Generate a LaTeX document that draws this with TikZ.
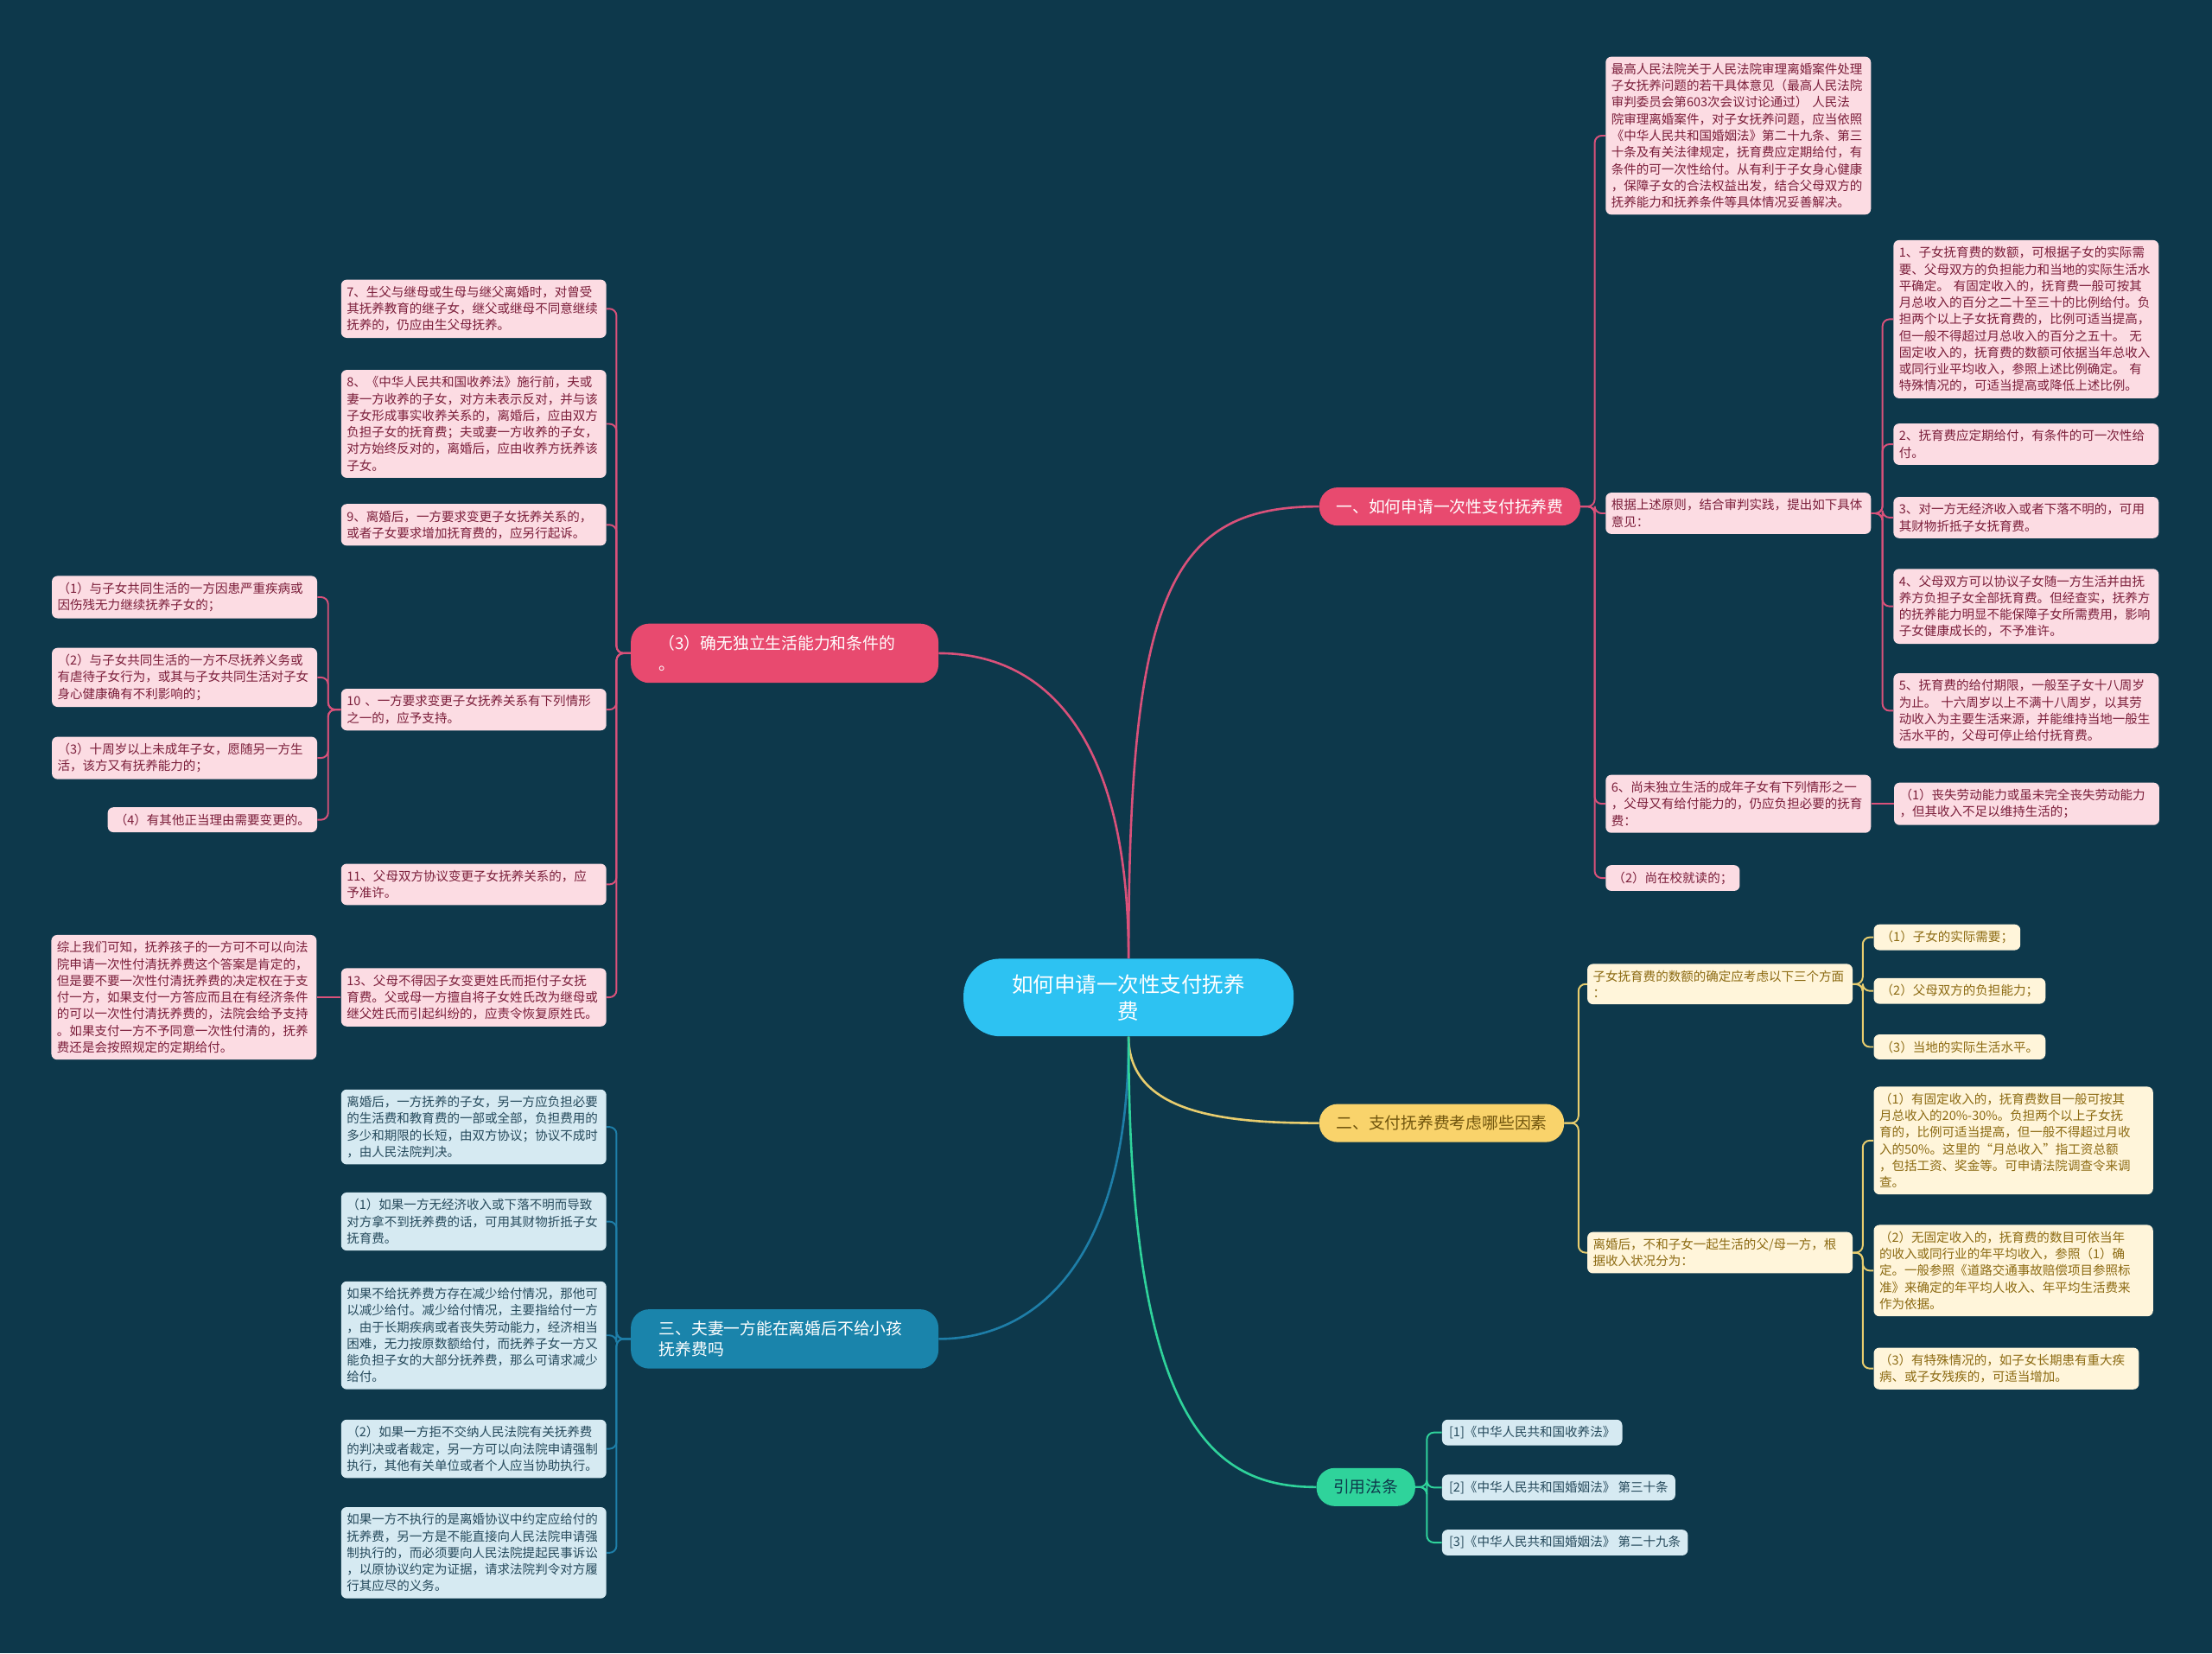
\documentclass[tikz,border=0pt]{standalone}
\usepackage{fontspec}
\setmainfont{Noto Sans CJK SC}
\usepackage{tikz}
\usetikzlibrary{positioning,calc}
\definecolor{BgTeal}{HTML}{0D384B}
\definecolor{CoreCyan}{HTML}{2DC2F2}
\definecolor{RoseNode}{HTML}{E84A6F}
\definecolor{RoseLine}{HTML}{D9517A}
\definecolor{RoseFill}{HTML}{FCDCE3}
\definecolor{RoseText}{HTML}{7B1E3A}
\definecolor{SunNode}{HTML}{F9D36B}
\definecolor{SunLine}{HTML}{E8CD6E}
\definecolor{SunFill}{HTML}{FFF5DA}
\definecolor{SunText}{HTML}{8C6A12}
\definecolor{SeaNode}{HTML}{1A84AB}
\definecolor{SeaLine}{HTML}{1E7EA8}
\definecolor{SeaFill}{HTML}{D6EAF2}
\definecolor{SeaText}{HTML}{264A5C}
\definecolor{MintNode}{HTML}{2FD39B}

\begin{document}
\begin{tikzpicture}[
    x=1pt, y=-1pt,
    core/.style={rectangle, rounded corners=26pt, fill=CoreCyan, text=white,
                 minimum width=234pt, minimum height=55pt, align=center,
                 font=\fontsize{15}{19}\selectfont},
    topic/.style={rectangle, rounded corners=13pt, fill=#1, text=white,
                  minimum height=27pt, inner xsep=12pt, align=left,
                  font=\fontsize{11.5}{15}\selectfont},
    topic/.default=RoseNode,
    widetopic/.style={topic=#1, text width=178pt, inner xsep=20pt, minimum height=42pt},
    leaf/.style={rectangle, rounded corners=4pt, fill=#1Fill, text=#1Text,
                 text width=180pt, inner xsep=4pt, inner ysep=4.6pt, align=left,
                 font=\fontsize{8.9}{11.8}\selectfont},
    leaf/.default=Rose,
    tag/.style={leaf=#1, text width=, inner xsep=5pt},
    tag/.default=Rose,
    main/.style={line width=1.6pt, color=#1},
    twig/.style={line width=1.2pt, color=#1, rounded corners=5pt},
]

% ── Canvas ──
\fill[BgTeal] (0,0) rectangle (1568,1172);
\useasboundingbox (0,0) rectangle (1568,1172);

% ── Centre topic ──
\node[core] (core) at (800,707) {如何申请一次性支付抚养\\费};

% ── Main topics ──
\node[topic, anchor=west] (once) at (935,359) {一、如何申请一次性支付抚养费};
\node[widetopic=RoseNode, anchor=west] (noself) at (447,463) {（3）确无独立生活能力和条件的\\。};
\node[topic=SunNode, text=SunText!80!black, anchor=west] (factor) at (935,796) {二、支付抚养费考虑哪些因素};
\node[widetopic=SeaNode, anchor=west] (refuse) at (447,949) {三、夫妻一方能在离婚后不给小孩\\抚养费吗};
\node[topic=MintNode, text=BgTeal, anchor=west] (laws) at (933,1054) {引用法条};

% ── Main branches ──
\draw[main=RoseLine] (core.north) .. controls (800,420) and (830,359) .. (once.west);
\draw[main=RoseLine] (core.north) .. controls (800,520) and (740,463) .. (noself.east);
\draw[main=SunLine] (core.south) .. controls (800,790) and (870,796) .. (factor.west);
\draw[main=SeaLine] (core.south) .. controls (800,900) and (730,949) .. (refuse.east);
\draw[main=MintNode] (core.south) .. controls (800,1010) and (860,1054) .. (laws.west);

% ── 一、 right side ──
\node[leaf, anchor=north west] (opinion) at (1138,40) {最高人民法院关于人民法院审理离婚案件处理\\子女抚养问题的若干具体意见（最高人民法院\\审判委员会第603次会议讨论通过） 人民法\\院审理离婚案件，对子女抚养问题，应当依照\\《中华人民共和国婚姻法》第二十九条、第三\\十条及有关法律规定，抚育费应定期给付，有\\条件的可一次性给付。从有利于子女身心健康\\，保障子女的合法权益出发，结合父母双方的\\抚养能力和抚养条件等具体情况妥善解决。};
\node[leaf, anchor=north west] (basis) at (1138,349) {根据上述原则，结合审判实践，提出如下具体\\意见：};
\node[leaf, anchor=north west] (adult) at (1138,549) {6、尚未独立生活的成年子女有下列情形之一\\，父母又有给付能力的，仍应负担必要的抚育\\费：};
\node[tag, anchor=north west] (school) at (1138,613) {（2）尚在校就读的；};

\node[leaf, anchor=north west] (amount) at (1342,170) {1、子女抚育费的数额，可根据子女的实际需\\要、父母双方的负担能力和当地的实际生活水\\平确定。 有固定收入的，抚育费一般可按其\\月总收入的百分之二十至三十的比例给付。负\\担两个以上子女抚育费的，比例可适当提高，\\但一般不得超过月总收入的百分之五十。 无\\固定收入的，抚育费的数额可依据当年总收入\\或同行业平均收入，参照上述比例确定。 有\\特殊情况的，可适当提高或降低上述比例。};
\node[leaf, anchor=north west] (period) at (1342,300) {2、抚育费应定期给付，有条件的可一次性给\\付。};
\node[leaf, anchor=north west] (offset) at (1342,352) {3、对一方无经济收入或者下落不明的，可用\\其财物折抵子女抚育费。};
\node[leaf, anchor=north west] (agree) at (1342,403) {4、父母双方可以协议子女随一方生活并由抚\\养方负担子女全部抚育费。但经查实，抚养方\\的抚养能力明显不能保障子女所需费用，影响\\子女健康成长的，不予准许。};
\node[leaf, anchor=north west] (limit) at (1342,477) {5、抚育费的给付期限，一般至子女十八周岁\\为止。 十六周岁以上不满十八周岁，以其劳\\动收入为主要生活来源，并能维持当地一般生\\活水平的，父母可停止给付抚育费。};
\node[leaf, right=16pt of adult] (disabled) {（1）丧失劳动能力或虽未完全丧失劳动能力\\，但其收入不足以维持生活的；};

\foreach \kid in {opinion,basis,adult,school}
    \draw[twig=RoseLine] (once.east) -- ++(10,0) |- (\kid.west);
\foreach \kid in {amount,period,offset,agree,limit}
    \draw[twig=RoseLine] (basis.east) -- ++(8,0) |- (\kid.west);
\draw[twig=RoseLine] (adult) -- (disabled);

% ── （3） left side ──
\node[leaf, anchor=north east] (step) at (430,198) {7、生父与继母或生母与继父离婚时，对曾受\\其抚养教育的继子女，继父或继母不同意继续\\抚养的，仍应由生父母抚养。};
\node[leaf, anchor=north east] (adopt) at (430,262) {8、《中华人民共和国收养法》施行前，夫或\\妻一方收养的子女，对方未表示反对，并与该\\子女形成事实收养关系的，离婚后，应由双方\\负担子女的抚育费；夫或妻一方收养的子女，\\对方始终反对的，离婚后，应由收养方抚养该\\子女。};
\node[leaf, anchor=north east] (sue) at (430,357) {9、离婚后，一方要求变更子女抚养关系的，\\或者子女要求增加抚育费的，应另行起诉。};
\node[leaf, anchor=north east] (change) at (430,488) {10 、一方要求变更子女抚养关系有下列情形\\之一的，应予支持。};
\node[leaf, anchor=north east] (consent) at (430,612) {11、父母双方协议变更子女抚养关系的，应\\予准许。};
\node[leaf, anchor=north east] (surname) at (430,686) {13、父母不得因子女变更姓氏而拒付子女抚\\育费。父或母一方擅自将子女姓氏改为继母或\\继父姓氏而引起纠纷的，应责令恢复原姓氏。};

\node[leaf, anchor=north east] (ill) at (225,408) {（1）与子女共同生活的一方因患严重疾病或\\因伤残无力继续抚养子女的；};
\node[leaf, anchor=north east] (abuse) at (225,459) {（2）与子女共同生活的一方不尽抚养义务或\\有虐待子女行为，或其与子女共同生活对子女\\身心健康确有不利影响的；};
\node[leaf, anchor=north east] (wish) at (225,522) {（3）十周岁以上未成年子女，愿随另一方生\\活，该方又有抚养能力的；};
\node[tag, anchor=north east] (other) at (225,572) {（4）有其他正当理由需要变更的。};
\node[leaf, left=17pt of surname] (summary) {综上我们可知，抚养孩子的一方可不可以向法\\院申请一次性付清抚养费这个答案是肯定的，\\但是要不要一次性付清抚养费的决定权在于支\\付一方，如果支付一方答应而且在有经济条件\\的可以一次性付清抚养费的，法院会给予支持\\。如果支付一方不予同意一次性付清的，抚养\\费还是会按照规定的定期给付。};

\foreach \kid in {step,adopt,sue,change,consent,surname}
    \draw[twig=RoseLine] (noself.west) -- ++(-10,0) |- (\kid.east);
\foreach \kid in {ill,abuse,wish,other}
    \draw[twig=RoseLine] (change.west) -- ++(-9,0) |- (\kid.east);
\draw[twig=RoseLine] (surname) -- (summary);

% ── 三、 left side ──
\node[leaf=Sea, anchor=north east] (share) at (430,772) {离婚后，一方抚养的子女，另一方应负担必要\\的生活费和教育费的一部或全部，负担费用的\\多少和期限的长短，由双方协议；协议不成时\\，由人民法院判决。};
\node[leaf=Sea, anchor=north east] (noincome) at (430,845) {（1）如果一方无经济收入或下落不明而导致\\对方拿不到抚养费的话，可用其财物折抵子女\\抚育费。};
\node[leaf=Sea, anchor=north east] (reduce) at (430,908) {如果不给抚养费方存在减少给付情况，那他可\\以减少给付。减少给付情况，主要指给付一方\\，由于长期疾病或者丧失劳动能力，经济相当\\困难，无力按原数额给付，而抚养子女一方又\\能负担子女的大部分抚养费，那么可请求减少\\给付。};
\node[leaf=Sea, anchor=north east] (enforce) at (430,1006) {（2）如果一方拒不交纳人民法院有关抚养费\\的判决或者裁定，另一方可以向法院申请强制\\执行，其他有关单位或者个人应当协助执行。};
\node[leaf=Sea, anchor=north east] (lawsuit) at (430,1068) {如果一方不执行的是离婚协议中约定应给付的\\抚养费，另一方是不能直接向人民法院申请强\\制执行的，而必须要向人民法院提起民事诉讼\\，以原协议约定为证据，请求法院判令对方履\\行其应尽的义务。};

\foreach \kid in {share,noincome,reduce,enforce,lawsuit}
    \draw[twig=SeaLine] (refuse.west) -- ++(-10,0) |- (\kid.east);

% ── 二、 right side ──
\node[leaf=Sun, anchor=north west] (aspects) at (1125,683) {子女抚育费的数额的确定应考虑以下三个方面\\：};
\node[leaf=Sun, anchor=north west] (income) at (1125,873) {离婚后，不和子女一起生活的父/母一方，根\\据收入状况分为：};

\node[tag=Sun, anchor=north west] (need) at (1328,655) {（1）子女的实际需要；};
\node[tag=Sun, anchor=north west] (ability) at (1328,693) {（2）父母双方的负担能力；};
\node[tag=Sun, anchor=north west] (living) at (1328,733) {（3）当地的实际生活水平。};
\node[leaf=Sun, text width=190pt, anchor=north west] (fixed) at (1328,770) {（1）有固定收入的，抚育费数目一般可按其\\月总收入的20\%-30\%。负担两个以上子女抚\\育的，比例可适当提高，但一般不得超过月收\\入的50\%。这里的“月总收入”指工资总额\\，包括工资、奖金等。可申请法院调查令来调\\查。};
\node[leaf=Sun, text width=190pt, anchor=north west] (unfixed) at (1328,868) {（2）无固定收入的，抚育费的数目可依当年\\的收入或同行业的年平均收入，参照（1）确\\定。一般参照《道路交通事故赔偿项目参照标\\准》来确定的年平均人收入、年平均生活费来\\作为依据。};
\node[leaf=Sun, text width=180pt, anchor=north west] (special) at (1328,955) {（3）有特殊情况的，如子女长期患有重大疾\\病、或子女残疾的，可适当增加。};

\foreach \kid in {aspects,income}
    \draw[twig=SunLine] (factor.east) -- ++(10,0) |- (\kid.west);
\foreach \kid in {need,ability,living}
    \draw[twig=SunLine] (aspects.east) -- ++(7,0) |- (\kid.west);
\foreach \kid in {fixed,unfixed,special}
    \draw[twig=SunLine] (income.east) -- ++(7,0) |- (\kid.west);

% ── 引用法条 ──
\node[tag=Sea, anchor=north west] (lawA) at (1022,1006) {[1]《中华人民共和国收养法》};
\node[tag=Sea, anchor=north west] (lawB) at (1022,1045) {[2]《中华人民共和国婚姻法》 第三十条};
\node[tag=Sea, anchor=north west] (lawC) at (1022,1084) {[3]《中华人民共和国婚姻法》 第二十九条};

\foreach \kid in {lawA,lawB,lawC}
    \draw[twig=MintNode] (laws.east) -- ++(8,0) |- (\kid.west);

\end{tikzpicture}
\end{document}
